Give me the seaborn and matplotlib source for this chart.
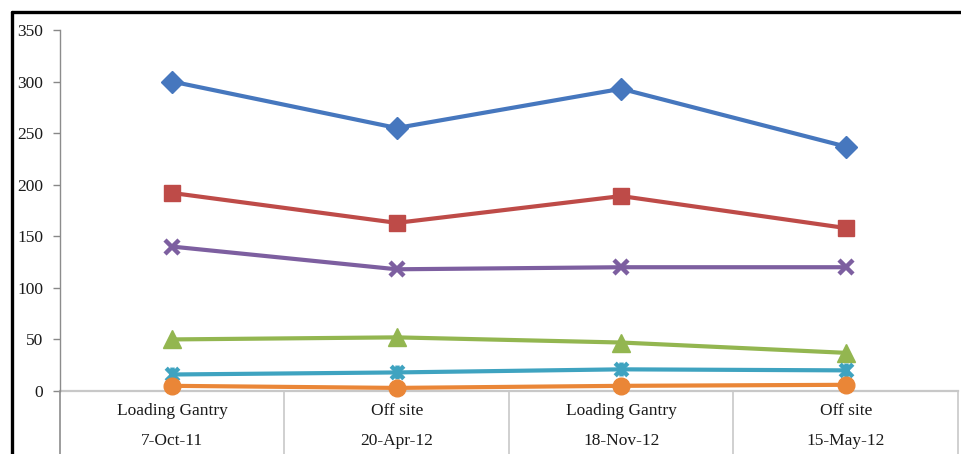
import matplotlib
matplotlib.use("Agg")
import matplotlib.pyplot as plt
from matplotlib.path import Path
from matplotlib.lines import Line2D
import seaborn as sns
import pandas as pd

# Sampling events: location (upper label row) and date (lower label row)
locations = ["Loading Gantry", "Off site", "Loading Gantry", "Off site"]
dates = ["7-Oct-11", "20-Apr-12", "18-Nov-12", "15-May-12"]

# Measured values per series at each sampling event
series_a = [300, 255, 293, 237]
series_b = [192, 163, 189, 158]
series_c = [140, 118, 120, 120]
series_d = [50, 52, 47, 37]
series_e = [16, 18, 21, 20]
series_f = [5, 3, 5, 6]

y_ticks = [0, 50, 100, 150, 200, 250, 300, 350]

# Excel-style star marker: an X with a vertical bar
star = Path([(-1, -1), (1, 1), (-1, 1), (1, -1), (0, -1.1), (0, 1.1)],
            [Path.MOVETO, Path.LINETO, Path.MOVETO, Path.LINETO, Path.MOVETO, Path.LINETO])

styles = [
    (series_a, "#4677BE", "D", 11.0, True),
    (series_b, "#BE4B48", "s", 11.5, True),
    (series_c, "#7D5FA0", "x", 10.0, False),
    (series_d, "#93B650", "^", 12.5, True),
    (series_e, "#3FA3C0", star, 10.0, False),
    (series_f, "#EA8637", "o", 12.0, True),
]

sns.set_theme(style="white")
plt.rcParams["font.family"] = ["Liberation Serif", "DejaVu Serif"]

fig = plt.figure(figsize=(9.62, 4.54), dpi=100)
W, H = 962, 454
ax = fig.add_axes([60 / W, 1 - 391 / H, (958 - 60) / W, (391 - 30) / H])

pos = list(range(len(locations)))
for values, color, marker, ms, filled in styles:
    df = pd.DataFrame({"x": pos, "y": values})
    kw = dict(marker=marker, markersize=ms, color=color, linewidth=3.0)
    if filled:
        kw.update(markeredgecolor=color, markerfacecolor=color, markeredgewidth=1.0)
    else:
        kw.update(markeredgecolor=color, markeredgewidth=3.2)
    sns.lineplot(data=df, x="x", y="y", ax=ax, clip_on=False, zorder=3, **kw)

ax.set_xlim(-0.5, len(locations) - 0.5)
ax.set_ylim(0, 350)
ax.set_yticks(y_ticks)
ax.set_yticklabels([str(t) for t in y_ticks], fontsize=12.5, color="#1a1a1a")
ax.set_xticks([])
ax.set_xlabel("")
ax.set_ylabel("")
ax.tick_params(axis="y", which="both", left=True, length=5, width=1,
               color="#888888", pad=7)

for side in ["top", "right"]:
    ax.spines[side].set_visible(False)
ax.spines["left"].set_color("#8C8C8C")
ax.spines["left"].set_linewidth(1.0)
ax.spines["bottom"].set_color("#C8C8C8")
ax.spines["bottom"].set_linewidth(1.6)
ax.spines["bottom"].set_zorder(1)

# Two-level category axis below the plot area
trans = ax.get_xaxis_transform()
for i in range(len(locations) + 1):
    xb = i - 0.5
    color = "#8C8C8C" if i == 0 else "#C8C8C8"
    ax.add_line(Line2D([xb, xb], [0, -0.2], transform=trans, color=color,
                       linewidth=1.2, clip_on=False))
for i, (loc, d) in enumerate(zip(locations, dates)):
    ax.text(i, -20 / 361, loc, transform=trans, ha="center", va="center",
            fontsize=12.5, color="#1a1a1a")
    ax.text(i, -50 / 361, d, transform=trans, ha="center", va="center",
            fontsize=12.5, color="#1a1a1a")

# Outer black frame (left and top)
fig.add_artist(Line2D([11.5 / W, 11.5 / W], [0, 1 - 11.5 / H],
                      transform=fig.transFigure, color="black", linewidth=2.4))
fig.add_artist(Line2D([11.5 / W, 1], [1 - 11.5 / H, 1 - 11.5 / H],
                      transform=fig.transFigure, color="black", linewidth=2.4))

fig.savefig("out.png", dpi=100, facecolor="white")
